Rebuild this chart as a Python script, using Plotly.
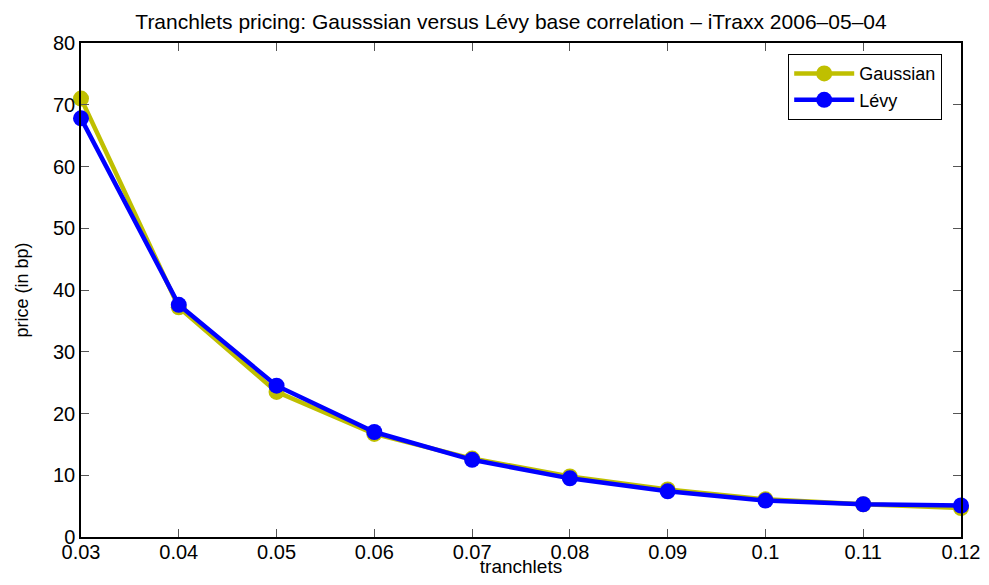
import plotly.graph_objects as go

tranchlets = [0.03, 0.04, 0.05, 0.06, 0.07, 0.08, 0.09, 0.10, 0.11, 0.12]
gaussian = [71.0, 37.2, 23.5, 16.7, 12.7, 9.8, 7.7, 6.1, 5.3, 4.7]
levy = [67.8, 37.6, 24.5, 17.0, 12.5, 9.5, 7.4, 5.9, 5.3, 5.1]

x_ticks = [0.03, 0.04, 0.05, 0.06, 0.07, 0.08, 0.09, 0.1, 0.11, 0.12]
x_tick_labels = ["0.03", "0.04", "0.05", "0.06", "0.07", "0.08", "0.09", "0.1", "0.11", "0.12"]
y_ticks = [0, 10, 20, 30, 40, 50, 60, 70, 80]

FONT = "Liberation Sans, Arial, Helvetica, sans-serif"

# page body has an 8px margin; figure sized so the plot lands where the reference's does
W, H = 973, 569
OFF = 8

fig = go.Figure()
fig.add_trace(go.Scatter(
    x=tranchlets, y=gaussian, name="Gaussian", mode="lines+markers",
    line=dict(color="#BFBF00", width=4.5),
    marker=dict(color="#BFBF00", size=16),
    cliponaxis=False,
))
fig.add_trace(go.Scatter(
    x=tranchlets, y=levy, name="Lévy", mode="lines+markers",
    line=dict(color="#0000FF", width=4.5),
    marker=dict(color="#0000FF", size=16),
    cliponaxis=False,
))

axis_common = dict(
    showgrid=False, zeroline=False, showline=True, linecolor="black", linewidth=1.5,
    mirror="ticks", ticks="inside", ticklen=8, tickcolor="#555555", tickwidth=1,
    tickfont=dict(family=FONT, size=20, color="black"),
    automargin=False,
)

fig.update_layout(
    width=W, height=H,
    paper_bgcolor="white", plot_bgcolor="white",
    margin=dict(l=81 - OFF, r=(OFF + W) - 961, t=43 - OFF, b=(OFF + H) - 537),
    font=dict(family=FONT, color="black"),
    title=dict(
        text="Tranchlets pricing: Gausssian versus Lévy base correlation – iTraxx 2006–05–04",
        font=dict(family=FONT, size=21, color="black"),
        x=(511 - OFF) / W, xanchor="center", y=1 - (22 - OFF) / H, yanchor="middle",
    ),
    xaxis=dict(
        range=[0.03, 0.12], tickvals=x_ticks, ticktext=x_tick_labels,
        title=dict(text="tranchlets", font=dict(family=FONT, size=19), standoff=8),
        ticklabelstandoff=-4,
        **axis_common,
    ),
    yaxis=dict(
        range=[0, 80], tickvals=y_ticks,
        title=dict(text="price (in bp)", font=dict(family=FONT, size=18), standoff=20),
        **axis_common,
    ),
    legend=dict(
        x=(942 - 81) / 880, xanchor="right", xref="paper",
        y=(537 - 54) / 494, yanchor="top", yref="paper",
        bordercolor="black", borderwidth=1.2, bgcolor="white",
        font=dict(family=FONT, size=18, color="black"),
        tracegroupgap=0, itemwidth=60,
    ),
    showlegend=True,
)

fig.write_html("out.html")
